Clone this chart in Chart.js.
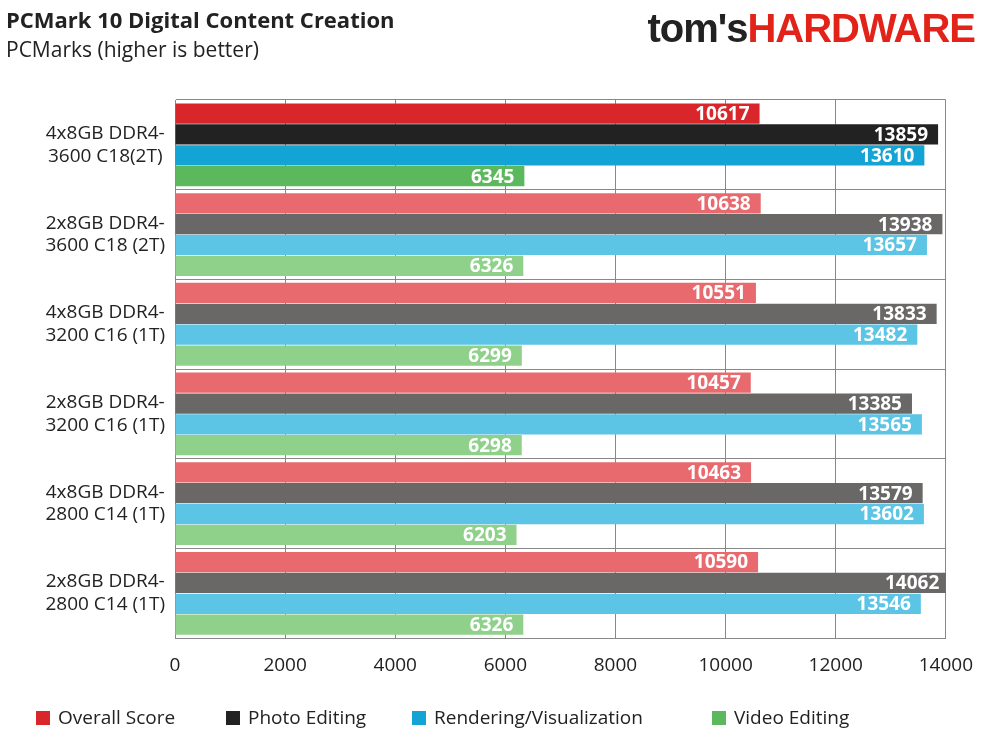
<!DOCTYPE html>
<html><head><meta charset="utf-8">
<script src="https://cdn.jsdelivr.net/npm/chart.js@4/dist/chart.umd.min.js"></script>
<style>
body{margin:0;background:#fff;font-family:"Open Sans",sans-serif}
#wrap{position:relative;width:989px;height:741px}
#t1{position:absolute;left:6px;top:4px;font-size:22px;font-weight:bold;color:#222}
#t2{position:absolute;left:6px;top:35px;font-size:21px;color:#222}
#logo{position:absolute;right:14px;top:6px;font-size:40px;font-weight:bold;letter-spacing:-1px;font-family:"Liberation Sans",sans-serif}
.lg{position:absolute;top:704px;font-size:19px;color:#222;white-space:nowrap}
.lg i{display:inline-block;width:14px;height:14px;margin-right:8px;vertical-align:-1px}
</style></head><body>
<div id="wrap">
<canvas id="c" width="989" height="741"></canvas>
<div id="t1">PCMark 10 Digital Content Creation</div>
<div id="t2">PCMarks (higher is better)</div>
<div id="logo"><span style="color:#222">tom's</span><span style="color:#e2231a">HARDWARE</span></div>
<div id="legend"></div>
</div>
<script>
const categories = [["4x8GB DDR4-","3600 C18(2T)"],["2x8GB DDR4-","3600 C18 (2T)"],["4x8GB DDR4-","3200 C16 (1T)"],["2x8GB DDR4-","3200 C16 (1T)"],["4x8GB DDR4-","2800 C14 (1T)"],["2x8GB DDR4-","2800 C14 (1T)"]];
const overall = [10617,10638,10551,10457,10463,10590];
const photo = [13859,13938,13833,13385,13579,14062];
const rendering = [13610,13657,13482,13565,13602,13546];
const video = [6345,6326,6299,6298,6203,6326];
const seriesNames = ["Overall Score","Photo Editing","Rendering/Visualization","Video Editing"];
const strong = ["#d9262b","#222222","#13a3d4","#5cb85c"];
const light = ["#e86a6e","#6a6767","#5cc4e4","#8fd18b"];
const legendX = [36, 226, 412, 712];

document.getElementById("legend").innerHTML = seriesNames.map((n, i) =>
  `<span class="lg" style="left:${legendX[i]}px"><i style="background:${strong[i]}"></i>${n}</span>`).join("");

const cols = i => categories.map((_, k) => k === 0 ? strong[i] : light[i]);
const valueLabels = {
  id: "valueLabels",
  afterDatasetsDraw(chart) {
    const ctx = chart.ctx;
    ctx.save();
    ctx.font = "bold 19px 'Open Sans'";
    ctx.fillStyle = "#fff";
    ctx.textAlign = "right";
    ctx.textBaseline = "middle";
    chart.data.datasets.forEach((ds, i) => {
      chart.getDatasetMeta(i).data.forEach((bar, k) => {
        ctx.fillText(ds.data[k], bar.x - 10, bar.y + 1);
      });
    });
    ctx.restore();
  }
};
new Chart(document.getElementById("c"), {
  type: "bar",
  data: {
    labels: categories,
    datasets: [overall, photo, rendering, video].map((d, i) => ({
      label: seriesNames[i], data: d, backgroundColor: cols(i),
      categoryPercentage: 0.93, barPercentage: 0.97
    }))
  },
  options: {
    indexAxis: "y", responsive: false, animation: false,
    layout: { padding: { top: 100, right: 42, left: 0, bottom: 48 } },
    scales: {
      x: { min: 0, max: 14000, ticks: { stepSize: 2000, color: "#222", font: { size: 19, family: "Open Sans" }, padding: 16, callback: v => String(v) },
           grid: { color: "#888", drawTicks: false }, border: { color: "#888" } },
      y: { ticks: { color: "#222", font: { size: 19, family: "Open Sans" }, padding: 10, crossAlign: "center" },
           grid: { color: "#888", drawTicks: false, offset: true }, border: { color: "#888" },
           afterFit(s) { s.width = 175; } }
    },
    plugins: { legend: { display: false }, tooltip: { enabled: false } }
  },
  plugins: [valueLabels]
});
</script>
</body></html>
